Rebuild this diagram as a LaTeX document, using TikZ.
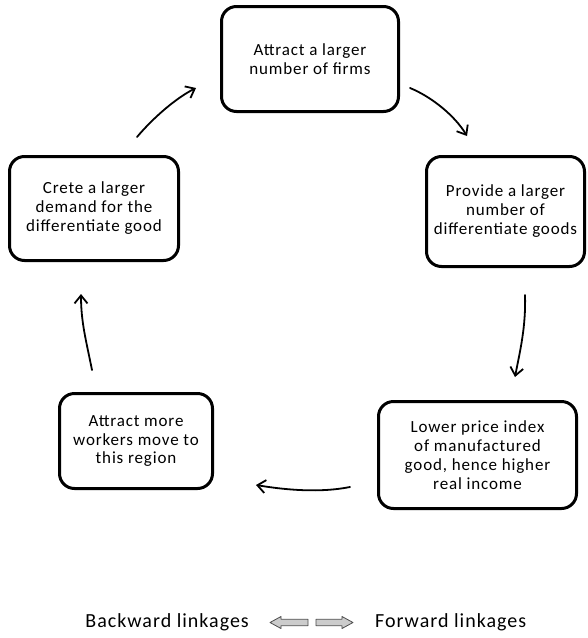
\documentclass[tikz,border=0pt]{standalone}
\usepackage{fontspec}
\setmainfont{Carlito}[LetterSpace=5]
\usetikzlibrary{arrows.meta}
\begin{document}
\begin{tikzpicture}[x=1pt,y=-1pt,
  box/.style={draw=black, line width=3pt, rounded corners=15pt, align=center,
    font=\fontsize{17}{19}\selectfont, inner sep=0pt},
  flow/.style={line width=1.8pt, line cap=round,
    -{Straight Barb[length=8pt,width=13pt,line width=1.8pt]}},
  blockarrow/.style={draw=black!70, line width=0.8pt, fill=black!20, line join=round},
  lbl/.style={font=\fontsize{20}{22}\selectfont, inner sep=0pt}]
\useasboundingbox (0,0) rectangle (588,638);
\fill[white] (0,0) rectangle (588,638);

\node[box, minimum width=177pt, minimum height=105pt] (top) at (310,59)
  {Attract a larger\\number of firms};
\node[box, minimum width=158pt, minimum height=110pt] (right) at (505.5,211.5)
  {Provide a larger\\number of\\differentiate goods};
\node[box, minimum width=198pt, minimum height=107pt] (botright) at (477.5,455)
  {Lower price index\\of manufactured\\good, hence higher\\real income};
\node[box, minimum width=153pt, minimum height=95pt] (botleft) at (136,441)
  {Attract more\\workers move to\\this region};
\node[box, minimum width=169pt, minimum height=104pt] (left) at (94,208.5)
  {Crete a larger\\demand for the\\differentiate good};

\coordinate (a1s) at (137,137); \coordinate (a1e) at (196,88);
\coordinate (a2s) at (410,88);  \coordinate (a2e) at (467,136);
\coordinate (a3s) at (525,295); \coordinate (a3e) at (515,377);
\coordinate (a4s) at (350,487); \coordinate (a4e) at (256,485);
\coordinate (a5s) at (92,370);  \coordinate (a5e) at (81,294);

\draw[flow] (a1s) .. controls +(16,-19) and +(-20,10) .. (a1e);
\draw[flow] (a2s) .. controls +(22,9) and +(-12,-20) .. (a2e);
\draw[flow] (a3s) .. controls +(1,32) and +(5,-26) .. (a3e);
\draw[flow] (a4s) .. controls +(-30,6) and +(30,5) .. (a4e);
\draw[flow] (a5s) .. controls +(-6,-30) and +(0,28) .. (a5e);

\draw[blockarrow] (270,622.5) -- (281,616.5) -- (281,619.3) -- (308,619.3)
  -- (308,625.7) -- (281,625.7) -- (281,628.5) -- cycle;
\draw[blockarrow] (353,622.5) -- (342,616.5) -- (342,619.3) -- (316,619.3)
  -- (316,625.7) -- (342,625.7) -- (342,628.5) -- cycle;

\node[lbl, anchor=east] (back) at (249,622.5) {Backward linkages};
\node[lbl, anchor=west] (fwd) at (375,622.5) {Forward linkages};
\end{tikzpicture}
\end{document}
